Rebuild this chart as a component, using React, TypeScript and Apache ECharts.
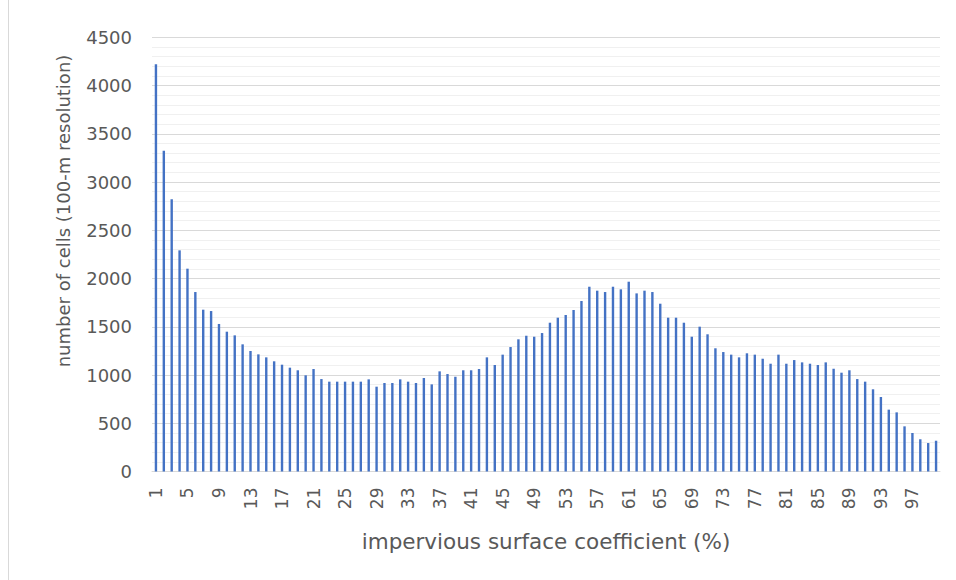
import React, { useEffect, useRef } from "react";
import * as echarts from "echarts";

const categories: string[] = Array.from({ length: 100 }, (_, i) => String(i + 1));

const cellCounts: number[] = [
  4220, 3325, 2821, 2292, 2102, 1860, 1677, 1663, 1529, 1449,
  1411, 1318, 1249, 1214, 1183, 1142, 1107, 1076, 1049, 997,
  1062, 958, 931, 931, 931, 931, 931, 955, 879, 917,
  917, 955, 931, 917, 969, 903, 1038, 1010, 982, 1049,
  1049, 1062, 1183, 1104, 1211, 1290, 1370, 1407, 1397, 1435,
  1542, 1594, 1622, 1674, 1767, 1915, 1874, 1860, 1915, 1888,
  1967, 1846, 1874, 1860, 1739, 1594, 1594, 1542, 1397, 1501,
  1422, 1277, 1238, 1211, 1183, 1225, 1211, 1169, 1117, 1211,
  1117, 1155, 1131, 1117, 1104, 1131, 1065, 1024, 1049, 958,
  931, 852, 772, 641, 613, 468, 399, 334, 295, 319,
];

const yTitle = "number of cells (100-m resolution)";
const xTitle = "impervious surface coefficient (%)";

const FONT = "'DejaVu Sans', sans-serif";
const TEXT = "#595959";

export default function App() {
  const ref = useRef<HTMLDivElement>(null);
  useEffect(() => {
    if (!ref.current) return;
    const chart = echarts.init(ref.current, undefined, { renderer: "svg" });
    chart.setOption({
      animation: false,
      backgroundColor: "#ffffff",
      grid: { left: 152, right: 16, top: 37.3, bottom: 108.5, containLabel: false },
      xAxis: {
        type: "category",
        data: categories,
        boundaryGap: true,
        axisLine: { show: true, lineStyle: { color: "#d9d9d9", width: 1 } },
        axisTick: { show: false },
        axisLabel: {
          interval: 3,
          rotate: 90,
          margin: 16,
          color: TEXT,
          fontFamily: FONT,
          fontSize: 17,
        },
        splitLine: { show: false },
      },
      yAxis: {
        type: "value",
        min: 0,
        max: 4500,
        interval: 500,
        axisLine: { show: false },
        axisTick: { show: false },
        axisLabel: {
          color: TEXT,
          fontFamily: FONT,
          fontSize: 18,
          margin: 20,
          formatter: (v: number) => String(v),
        },
        splitLine: { show: true, lineStyle: { color: "#d9d9d9", width: 1 } },
        minorTick: { show: false, splitNumber: 5 },
        minorSplitLine: { show: true, lineStyle: { color: "#f0f0f0", width: 1 } },
      },
      series: [
        {
          type: "bar",
          data: cellCounts,
          barWidth: 2.4,
          itemStyle: { color: "#4472C4" },
          silent: true,
        },
      ],
      graphic: [
        {
          type: "line",
          shape: { x1: 8.5, y1: 0, x2: 8.5, y2: 580 },
          style: { stroke: "#d9d9d9", lineWidth: 1 },
          silent: true,
        },
        {
          type: "text",
          x: 63,
          y: 211,
          rotation: Math.PI / 2,
          style: {
            text: yTitle,
            fontFamily: FONT,
            fontSize: 18,
            fill: TEXT,
            align: "center",
            verticalAlign: "middle",
          },
        },
        {
          type: "text",
          x: 546,
          y: 541,
          style: {
            text: xTitle,
            fontFamily: FONT,
            fontSize: 21.5,
            fill: TEXT,
            align: "center",
            verticalAlign: "middle",
          },
        },
      ],
    });
    return () => chart.dispose();
  }, []);
  return <div ref={ref} style={{ width: 956, height: 580, position: "absolute", left: 0, top: 0 }} />;
}
